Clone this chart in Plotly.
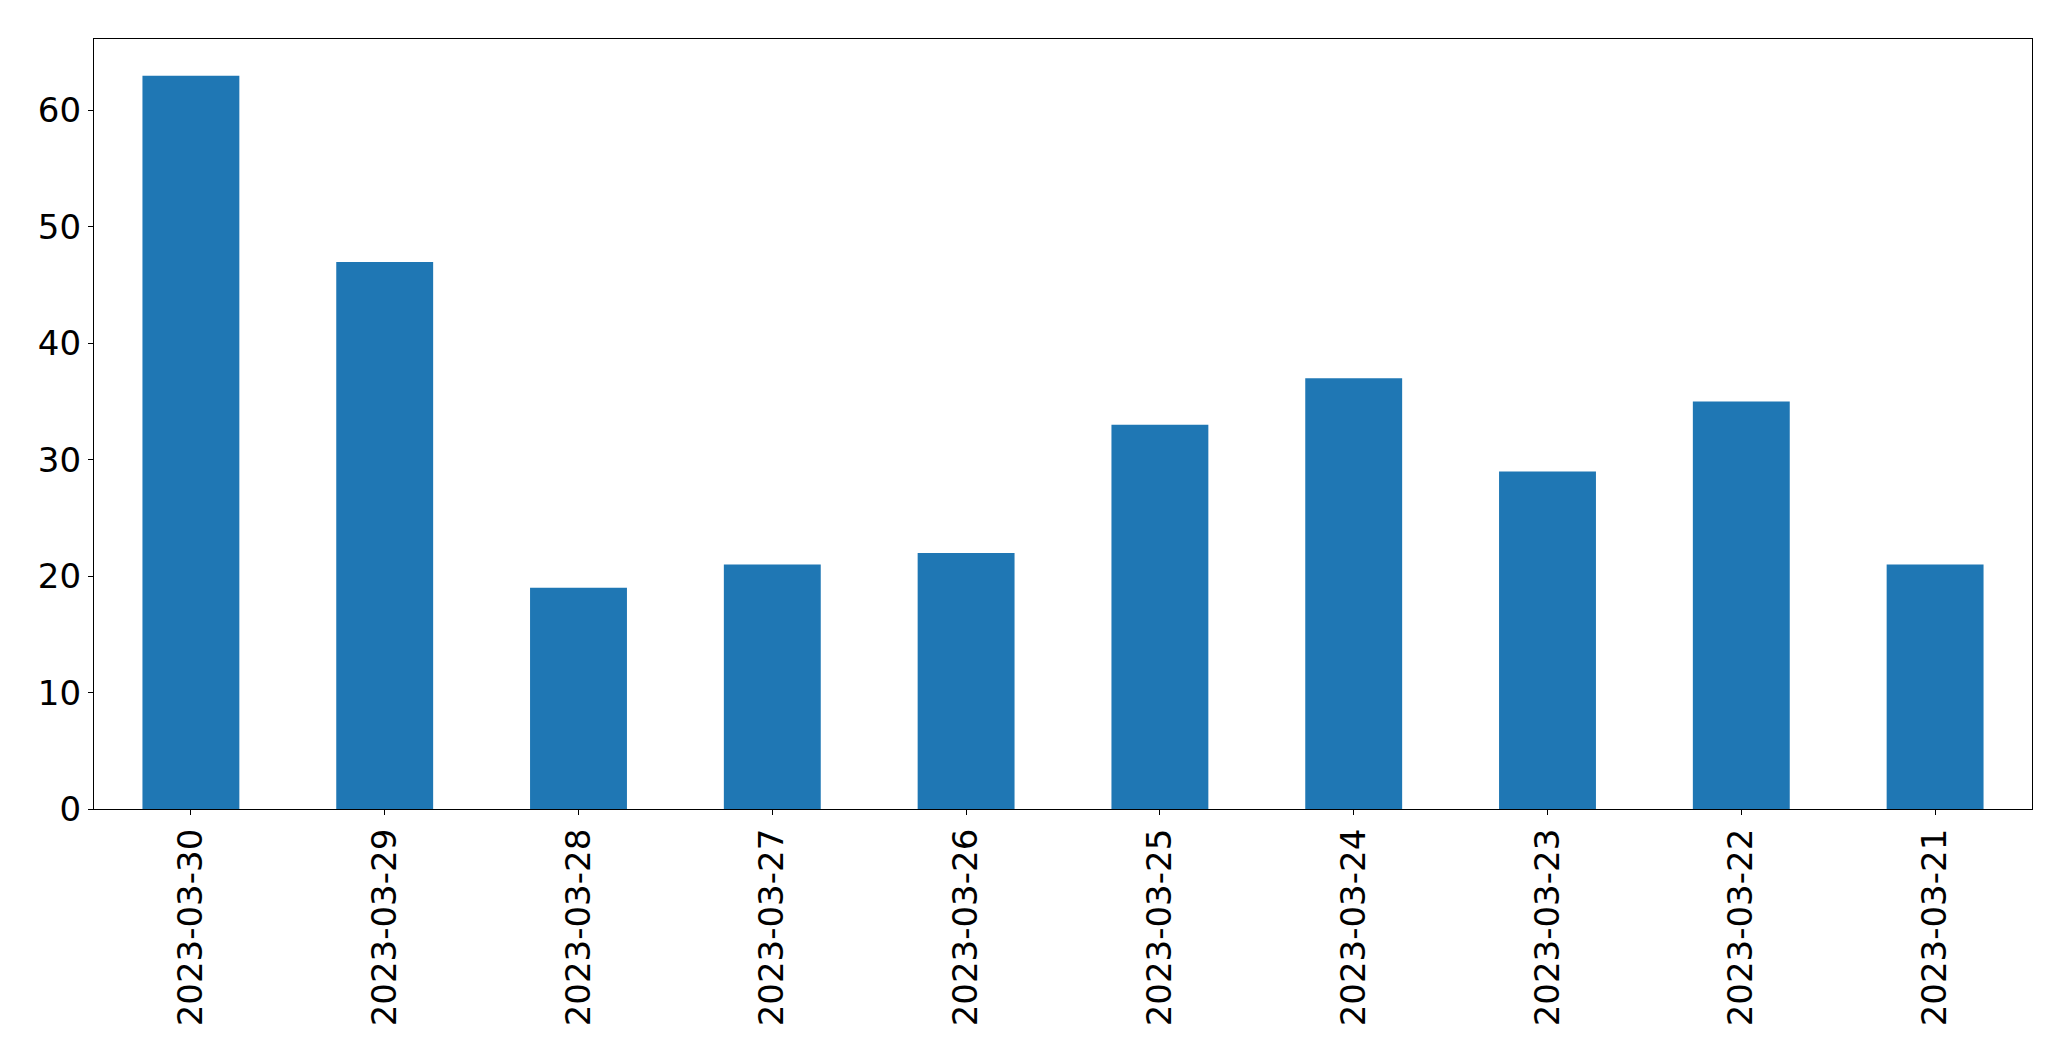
import plotly.graph_objects as go

dates = ["2023-03-30", "2023-03-29", "2023-03-28", "2023-03-27", "2023-03-26",
         "2023-03-25", "2023-03-24", "2023-03-23", "2023-03-22", "2023-03-21"]
counts = [63, 47, 19, 21, 22, 33, 37, 29, 35, 21]
y_ticks = [0, 10, 20, 30, 40, 50, 60]

fig = go.Figure(go.Bar(x=list(range(len(dates))), y=counts, width=0.5,
                       marker=dict(color="#1f77b4", line=dict(width=0))))

axis_common = dict(showline=True, linecolor="black", linewidth=1.3, mirror=True,
                   ticks="outside", ticklen=5, tickwidth=1.3, tickcolor="black",
                   showgrid=False, zeroline=False,
                   tickfont=dict(family="DejaVu Sans", size=34, color="black"))

fig.update_layout(
    width=2071, height=1061,
    margin=dict(l=94, r=39, t=39, b=252),
    paper_bgcolor="white", plot_bgcolor="white",
    showlegend=False,
    xaxis=dict(range=[-0.5, len(dates) - 0.5], tickmode="array",
               tickvals=list(range(len(dates))), ticktext=dates, tickangle=-90,
               **axis_common),
    yaxis=dict(range=[0, max(counts) * 1.05], tickmode="array", tickvals=y_ticks,
               **axis_common),
)

fig.write_html("out.html")
